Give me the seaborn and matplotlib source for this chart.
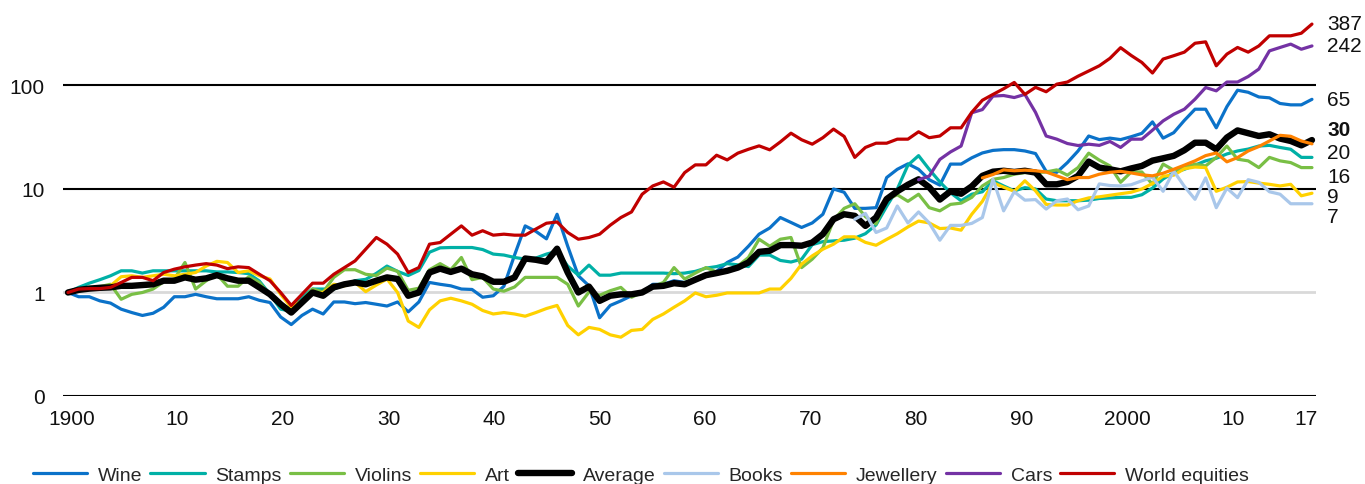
import matplotlib
matplotlib.use("Agg")
import matplotlib.pyplot as plt
from matplotlib.lines import Line2D
from matplotlib.ticker import NullLocator
import numpy as np
import pandas as pd
import seaborn as sns

# ---------------- data (index values, 1900 = 1) ----------------
years = list(range(1900, 2018))

wine = [1.0, 0.91, 0.91, 0.83, 0.79, 0.69, 0.64, 0.6, 0.63, 0.72,
        0.91, 0.91, 0.96, 0.91, 0.87, 0.87, 0.87, 0.91, 0.84, 0.8,
        0.58, 0.49, 0.6, 0.69, 0.62, 0.81, 0.81, 0.78, 0.8, 0.77,
        0.74, 0.81, 0.65, 0.81, 1.25, 1.2, 1.16, 1.08, 1.07, 0.9,
        0.93, 1.15, 2.3, 4.4, 3.9, 3.3, 5.7, 2.8, 1.45, 1.16,
        0.57, 0.75, 0.83, 0.93, 1.0, 1.2, 1.2, 1.3, 1.25, 1.35,
        1.5, 1.6, 1.95, 2.2, 2.8, 3.66, 4.2, 5.3, 4.75, 4.25,
        4.7, 5.7, 10.0, 9.3, 6.5, 6.5, 6.6, 12.9, 15.5, 17.5,
        15.5, 12.3, 10.9, 17.4, 17.4, 20.0, 22.3, 23.6, 24.0, 24.0,
        23.3, 22.0, 14.8, 14.5, 18.0, 23.3, 32.5, 30.0, 31.0, 30.0,
        32.0, 34.5, 44.5, 31.0, 35.0, 46.0, 59.0, 59.0, 39.0, 62.5,
        90.0, 86.0, 77.5, 76.0, 67.0, 65.0, 65.0, 73.5]

stamps = [1.0, 1.12, 1.23, 1.33, 1.45, 1.62, 1.62, 1.54, 1.62, 1.62,
          1.62, 1.62, 1.62, 1.62, 1.58, 1.58, 1.56, 1.52, 1.29, 0.96,
          0.69, 0.66, 0.9, 1.08, 1.08, 1.08, 1.18, 1.3, 1.34, 1.53,
          1.8, 1.6, 1.46, 1.63, 2.45, 2.7, 2.72, 2.72, 2.72, 2.6,
          2.35, 2.3, 2.18, 2.1, 2.15, 2.35, 2.5, 1.8, 1.47, 1.84,
          1.47, 1.47, 1.54, 1.54, 1.54, 1.54, 1.54, 1.52, 1.54, 1.6,
          1.72, 1.78, 1.9, 1.85, 1.78, 2.3, 2.3, 2.04, 1.97, 2.1,
          2.9, 3.1, 3.15, 3.2, 3.35, 3.7, 4.5, 6.8, 10.0, 17.0,
          21.0, 15.5, 11.7, 9.2, 7.7, 8.9, 9.4, 12.0, 10.7, 9.6,
          10.3, 10.0, 8.0, 7.7, 7.7, 7.7, 7.8, 8.1, 8.2, 8.3,
          8.3, 8.8, 10.2, 12.5, 14.4, 15.5, 17.0, 18.7, 19.8, 21.8,
          23.3, 24.3, 26.0, 26.4, 25.2, 24.2, 20.2, 20.2]

violins = [1.0, 1.04, 1.09, 1.14, 1.2, 0.86, 0.96, 1.0, 1.08, 1.27,
           1.35, 1.95, 1.08, 1.3, 1.5, 1.15, 1.15, 1.42, 1.25, 0.93,
           0.77, 0.69, 0.83, 1.08, 1.01, 1.4, 1.66, 1.66, 1.5, 1.46,
           1.72, 1.6, 1.05, 1.1, 1.66, 1.9, 1.66, 2.18, 1.33, 1.4,
           1.08, 1.03, 1.13, 1.4, 1.4, 1.4, 1.4, 1.2, 0.74, 1.01,
           0.94, 1.04, 1.12, 0.9, 1.0, 1.14, 1.25, 1.74, 1.35, 1.54,
           1.74, 1.58, 1.62, 1.8, 2.18, 3.27, 2.8, 3.27, 3.4, 1.74,
           2.1, 2.7, 5.0, 6.5, 7.2, 5.4, 4.6, 7.9, 8.8, 7.6,
           8.9, 6.6, 6.15, 7.1, 7.3, 8.3, 10.7, 12.4, 12.9, 13.9,
           14.4, 14.4, 14.6, 15.3, 13.6, 16.1, 22.2, 19.0, 16.7, 11.6,
           14.6, 14.6, 11.1, 17.4, 15.2, 16.1, 17.4, 16.7, 20.2, 26.0,
           19.4, 18.7, 16.1, 20.2, 18.7, 18.0, 16.1, 16.1]

art = [1.0, 1.08, 1.12, 1.12, 1.16, 1.42, 1.45, 1.4, 1.45, 1.5,
       1.45, 1.5, 1.56, 1.8, 2.0, 1.95, 1.56, 1.62, 1.45, 1.35,
       0.96, 0.72, 0.83, 0.96, 1.0, 1.2, 1.16, 1.25, 1.02, 1.18,
       1.35, 1.0, 0.53, 0.46, 0.68, 0.83, 0.88, 0.83, 0.77, 0.67,
       0.62, 0.64, 0.62, 0.59, 0.64, 0.7, 0.75, 0.48, 0.39, 0.46,
       0.44, 0.39, 0.37, 0.43, 0.44, 0.55, 0.62, 0.72, 0.83, 0.99,
       0.91, 0.94, 0.99, 0.99, 0.99, 0.99, 1.08, 1.08, 1.37, 1.88,
       2.26, 2.62, 2.93, 3.45, 3.45, 3.05, 2.86, 3.26, 3.7, 4.3,
       4.9, 4.7, 4.15, 4.2, 4.0, 5.7, 7.6, 11.5, 10.4, 9.5,
       12.0, 9.6, 7.1, 7.0, 7.0, 7.7, 8.2, 8.4, 8.7, 9.0,
       9.3, 10.0, 11.3, 13.3, 13.6, 15.7, 16.3, 16.1, 9.5, 10.4,
       11.7, 11.8, 11.4, 11.1, 10.7, 11.1, 8.6, 9.1]

average = [1.0, 1.06, 1.09, 1.11, 1.12, 1.16, 1.16, 1.18, 1.2, 1.3,
           1.3, 1.4, 1.33, 1.37, 1.47, 1.37, 1.3, 1.3, 1.12, 0.96,
           0.77, 0.64, 0.8, 1.0, 0.93, 1.12, 1.2, 1.25, 1.2, 1.3,
           1.4, 1.35, 0.93, 1.0, 1.56, 1.7, 1.58, 1.7, 1.5, 1.43,
           1.27, 1.27, 1.4, 2.13, 2.07, 1.98, 2.65, 1.56, 1.0, 1.14,
           0.83, 0.93, 0.96, 0.96, 1.0, 1.14, 1.16, 1.23, 1.2, 1.33,
           1.47, 1.54, 1.62, 1.74, 1.95, 2.47, 2.53, 2.87, 2.87, 2.83,
           3.04, 3.66, 5.1, 5.7, 5.5, 4.4, 5.3, 8.0, 9.5, 11.0,
           12.4, 10.4, 7.9, 9.5, 9.0, 10.6, 13.4, 14.7, 15.0, 14.6,
           15.0, 14.4, 11.1, 11.1, 11.7, 13.4, 18.4, 16.1, 15.5, 14.8,
           15.8, 16.7, 18.8, 19.8, 20.9, 23.7, 28.0, 28.0, 24.2, 31.4,
           36.8, 34.6, 32.5, 33.8, 30.7, 29.1, 26.4, 29.7]

books_years = list(range(1974, 2018))
books = [5.1, 5.8, 3.8, 4.2, 6.85, 4.7,
         6.0, 4.7, 3.2, 4.45, 4.45, 4.65, 5.3, 12.4, 6.15, 9.4,
         7.8, 7.9, 6.4, 7.7, 8.0, 6.3, 6.85, 11.2, 10.8, 10.7,
         11.0, 12.0, 13.0, 9.5, 14.9, 10.6, 7.95, 12.8, 6.6, 10.2,
         8.25, 12.3, 11.6, 9.4, 8.9, 7.2, 7.2, 7.2]

jewellery_years = list(range(1986, 2018))
jewellery = [12.8, 13.8, 15.3, 15.0,
             15.2, 15.0, 14.6, 13.4, 12.3, 12.9, 12.9, 13.9, 14.5, 14.8,
             14.3, 13.7, 13.4, 14.2, 15.5, 17.0, 18.7, 21.0, 22.3, 18.3,
             20.1, 23.3, 25.7, 29.1, 33.0, 32.3, 29.1, 27.3]

cars_years = list(range(1980, 2018))
cars = [12.3, 13.3, 19.3, 22.8, 26.0, 54.5, 58.5, 79.0, 80.0, 76.5,
        82.0, 55.0, 32.5, 30.3, 27.5, 26.3, 27.1, 26.4, 28.8, 25.2,
        30.3, 30.3, 37.0, 45.5, 52.7, 59.0, 73.7, 95.6, 88.8, 108.0,
        108.0, 122.0, 144.0, 216.0, 233.0, 251.0, 224.0, 241.0]

equities = [1.0, 1.08, 1.09, 1.09, 1.12, 1.25, 1.4, 1.4, 1.3, 1.56,
            1.68, 1.77, 1.84, 1.9, 1.84, 1.7, 1.77, 1.74, 1.5, 1.3,
            1.0, 0.75, 0.96, 1.23, 1.23, 1.5, 1.74, 2.02, 2.62, 3.4,
            2.93, 2.35, 1.56, 1.74, 2.93, 3.04, 3.66, 4.4, 3.58, 3.95,
            3.58, 3.66, 3.58, 3.58, 4.1, 4.67, 4.8, 3.8, 3.27, 3.4,
            3.66, 4.47, 5.3, 6.0, 8.9, 10.7, 11.7, 10.4, 14.4, 17.1,
            17.1, 21.2, 19.1, 22.2, 24.2, 26.1, 23.9, 28.5, 34.6, 29.9,
            27.1, 31.3, 37.9, 32.2, 20.2, 25.2, 27.7, 27.7, 30.3, 30.3,
            35.7, 31.3, 32.5, 39.0, 39.0, 55.0, 72.0, 82.0, 93.0, 107.0,
            82.0, 96.0, 87.0, 103.0, 108.0, 123.0, 138.0, 155.0, 183.0, 232.0,
            195.0, 167.0, 132.0, 180.0, 194.0, 210.0, 256.0, 264.0, 155.0, 201.0,
            233.0, 210.0, 241.0, 302.0, 302.0, 302.0, 320.0, 392.0]

series_names = ["Wine", "Stamps", "Violins", "Art", "Average",
                "Books", "Jewellery", "Cars", "World equities"]
series_years = [years, years, years, years, years,
                books_years, jewellery_years, cars_years, years]
series_values = [wine, stamps, violins, art, average,
                 books, jewellery, cars, equities]

tick_years = [1900, 1910, 1920, 1930, 1940, 1950, 1960, 1970, 1980, 1990, 2000, 2010, 2017]
tick_labels = ["1900", "10", "20", "30", "40", "50", "60", "70", "80",
               "90", "2000", "10", "17"]
end_labels = ["387", "242", "65", "30", "20", "16", "9", "7"]

# ---------------- styling ----------------
colors = {"Wine": "#0b72c9", "Stamps": "#00b0a6", "Violins": "#79bf45",
          "Art": "#ffd100", "Average": "#000000", "Books": "#a9c7ea",
          "Jewellery": "#ff8200", "Cars": "#7432a4", "World equities": "#c00000"}
widths = {n: 2.3 for n in series_names}
widths["Average"] = 4.6

frames = []
for n, yrs, vals in zip(series_names, series_years, series_values):
    frames.append(pd.DataFrame({"year": yrs, "value": vals, "series": n}))
df = pd.concat(frames, ignore_index=True)

sns.set_theme(style="white")
plt.rcParams["font.family"] = ["Liberation Sans", "DejaVu Sans"]

W, H = 1365, 485
fig = plt.figure(figsize=(W / 100, H / 100), dpi=100)
ax = fig.add_axes([63 / W, 88 / H, 1253 / W, 391.5 / H])

for i, n in enumerate(series_names):
    sns.lineplot(data=df[df["series"] == n], x="year", y="value",
                 color=colors[n], linewidth=widths[n], ax=ax,
                 estimator=None, legend=False, zorder=3 + i,
                 solid_joinstyle="round", solid_capstyle="round")

ax.set_yscale("log")
ax.set_ylim(0.1, 606)
ax.set_xlim(1899.53, 2017.38)

# horizontal reference lines
for yv, c, lw in [(0.1, "black", 1.5), (1, "#d9d9d9", 2.0),
                  (10, "black", 1.5), (100, "black", 1.5)]:
    ax.axhline(yv, color=c, lw=lw, zorder=1)

for s in ax.spines.values():
    s.set_visible(False)
ax.grid(False)

ax.set_yticks([0.1, 1, 10, 100])
ax.set_yticklabels(["0", "1", "10", "100"])
ax.yaxis.set_minor_locator(NullLocator())
# the source's category labels sit slightly tighter than the data spacing
tick_pos = [1900.38 + (t - 1900) * 0.9923 for t in tick_years]
ax.set_xticks(tick_pos)
ax.set_xticklabels(tick_labels)
ax.tick_params(axis="y", length=0, labelsize=15, pad=13, colors="#111111")
ax.tick_params(axis="x", length=0, labelsize=15, pad=9.5, colors="#111111")
ax.set_xlabel("")
ax.set_ylabel("")

# end-of-series value labels (placed to the right of the lines)
label_pos = [393, 241, 74, 37.4, 22.3, 13.2, 8.43, 5.45]
for txt, yv in zip(end_labels, label_pos):
    ax.text(2018.42, yv, txt, ha="left", va="center", fontsize=15,
            fontweight="bold" if txt == "30" else "normal",
            color="#111111", clip_on=False)

handles = [Line2D([0], [0], color=colors[n], lw=widths[n]) for n in series_names]
fig.legend(handles, series_names, loc="center left",
           bbox_to_anchor=(33 / W, 9 / H), ncol=9, frameon=False,
           fontsize=14, handlelength=2.8, handletextpad=0.55,
           columnspacing=0.4, borderaxespad=0, borderpad=0)

fig.savefig("out.png", dpi=100)
